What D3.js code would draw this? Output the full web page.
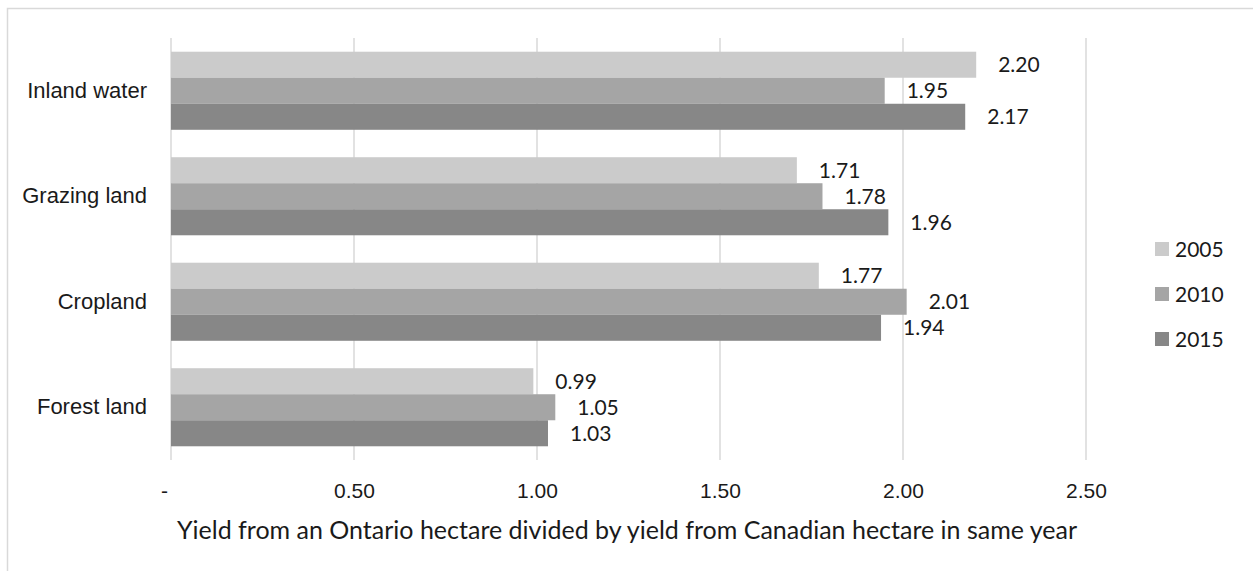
<!DOCTYPE html>
<html>
<head>
<meta charset="utf-8">
<script src="https://cdn.jsdelivr.net/npm/d3@7"></script>
<style>
  html, body { margin: 0; padding: 0; background: #fff; }
  svg { display: block; font-family: Lato, "Open Sans", sans-serif; }
</style>
</head>
<body>
<svg id="chart" width="1253" height="571"></svg>
<script>
// Land categories, top to bottom
const categories = ["Inland water", "Grazing land", "Cropland", "Forest land"];
// Yield ratio (Ontario / Canada) per year, in category order
const years = ["2005", "2010", "2015"];
const values2005 = [2.20, 1.71, 1.77, 0.99];
const values2010 = [1.95, 1.78, 2.01, 1.05];
const values2015 = [2.17, 1.96, 1.94, 1.03];
const tickValues = [0, 0.5, 1.0, 1.5, 2.0, 2.5];
const axisTitle = "Yield from an Ontario hectare divided by yield from Canadian hectare in same year";

const seriesValues = [values2005, values2010, values2015];
const colors = ["#cbcbcb", "#a5a5a5", "#878787"];
const textColor = "#1a1a1a";
const fontSize = 21;

const svg = d3.select("#chart");

// outer chart frame
svg.append("rect")
  .attr("x", 7.5).attr("y", 8.5)
  .attr("width", 1400).attr("height", 700)
  .attr("fill", "none").attr("stroke", "#d9d9d9").attr("stroke-width", 1.5);

const plot = { left: 171, right: 1086, top: 38, bottom: 460 };

const x = d3.scaleLinear().domain([0, 2.5]).range([plot.left, plot.right]);
const y = d3.scaleBand().domain(categories)
  .range([plot.top, plot.bottom])
  .paddingInner(0.26).paddingOuter(0.13);
const ySeries = d3.scaleBand().domain(years).range([0, y.bandwidth()]);
const color = d3.scaleOrdinal().domain(years).range(colors);

// vertical gridlines
svg.append("g")
  .selectAll("line")
  .data(tickValues)
  .join("line")
  .attr("x1", d => x(d)).attr("x2", d => x(d))
  .attr("y1", plot.top).attr("y2", plot.bottom)
  .attr("stroke", "#d9d9d9").attr("stroke-width", 1.5);

// x axis labels
const xAxis = d3.axisBottom(x)
  .tickValues(tickValues)
  .tickSize(0)
  .tickPadding(0)
  .tickFormat(d => d === 0 ? "-" : d3.format(".2f")(d));
const xg = svg.append("g")
  .attr("transform", `translate(0, ${plot.bottom + 22})`)
  .call(xAxis);
xg.select(".domain").remove();
xg.selectAll("text")
  .attr("font-family", null)
  .attr("font-size", fontSize)
  .attr("fill", textColor)
  .attr("dy", "0.75em")
  .attr("dx", d => d === 0 ? -7 : 0);

// y axis category labels
const yAxis = d3.axisLeft(y).tickSize(0).tickPadding(24);
const yg = svg.append("g")
  .attr("transform", `translate(${plot.left}, 0)`)
  .call(yAxis);
yg.select(".domain").remove();
yg.selectAll("text")
  .attr("font-family", null)
  .attr("font-size", 22)
  .attr("fill", textColor);

// bars
const rows = [];
categories.forEach((c, i) => {
  years.forEach((yr, j) => rows.push({ category: c, year: yr, value: seriesValues[j][i] }));
});

const bars = svg.append("g");
bars.selectAll("rect")
  .data(rows)
  .join("rect")
  .attr("x", x(0))
  .attr("y", d => y(d.category) + ySeries(d.year))
  .attr("width", d => x(d.value) - x(0))
  .attr("height", ySeries.bandwidth())
  .attr("fill", d => color(d.year));

// value labels
svg.append("g")
  .selectAll("text")
  .data(rows)
  .join("text")
  .attr("x", d => x(d.value) + 22)
  .attr("y", d => y(d.category) + ySeries(d.year) + ySeries.bandwidth() / 2)
  .attr("dy", "0.36em")
  .attr("font-size", fontSize)
  .attr("fill", textColor)
  .text(d => d3.format(".2f")(d.value));

// axis title
svg.append("text")
  .attr("x", 627)
  .attr("y", 539)
  .attr("text-anchor", "middle")
  .attr("font-size", 25)
  .attr("fill", textColor)
  .text(axisTitle);

// legend
const legend = svg.append("g")
  .selectAll("g")
  .data(years)
  .join("g")
  .attr("transform", (d, i) => `translate(1155, ${249 + i * 45})`);
legend.append("rect")
  .attr("x", 0).attr("y", -7)
  .attr("width", 14).attr("height", 14)
  .attr("fill", d => color(d));
legend.append("text")
  .attr("x", 20).attr("y", 0)
  .attr("dy", "0.36em")
  .attr("font-size", fontSize)
  .attr("fill", textColor)
  .text(d => d);
</script>
</body>
</html>
